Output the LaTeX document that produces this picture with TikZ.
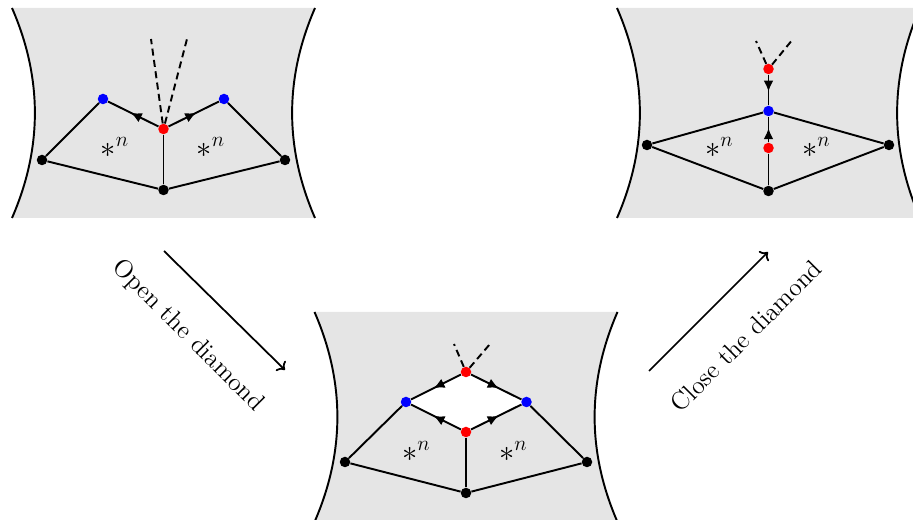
\documentclass[tikz,border=0pt]{standalone}
\usepackage{amsmath, amssymb}
\usepackage{tikz}
\usetikzlibrary{arrows.meta,decorations.markings}

\definecolor{panelgray}{gray}{0.9}

% grey sheet with concave sides, centred at the origin
\newcommand{\drawpanel}{%
    \fill[panelgray] (-3.03,2.1) -- (3.03,2.1)
        .. controls (2.42,0.7) and (2.42,-0.7) .. (3.03,-2.1)
        -- (-3.03,-2.1)
        .. controls (-2.42,-0.7) and (-2.42,0.7) .. (-3.03,2.1) -- cycle;
    \draw[line width=1.1pt] (-3.03,2.1) .. controls (-2.42,0.7) and (-2.42,-0.7) .. (-3.03,-2.1);
    \draw[line width=1.1pt] (3.03,2.1) .. controls (2.42,0.7) and (2.42,-0.7) .. (3.03,-2.1);
}

\begin{document}
\begin{tikzpicture}[
    dot/.style={circle, inner sep=0pt, minimum size=0.21cm},
    rdot/.style={dot, fill=red},
    bdot/.style={dot, fill=blue},
    kdot/.style={dot, fill=black},
    edge/.style={line width=1.1pt},
    midarrow/.style={edge, postaction={decorate},
        decoration={markings, mark=at position 0.55 with {\arrow{Latex[length=2.2mm,width=2mm]}}}},
    ghost/.style={line width=1.1pt, dash pattern=on 4pt off 2.5pt},
    star/.style={font=\LARGE},
    move/.style={->, line width=1pt},
    lbl/.style={font=\Large}
]
    \useasboundingbox (0,0) rectangle (18.26,-10.4);

    % Left panel
    \begin{scope}[shift={(3.27,-2.26)}]
        \drawpanel
        \node[rdot] (r1) at (0,-0.32) {};
        \node[bdot] (bl1) at (-1.21,0.28) {};
        \node[bdot] (br1) at (1.21,0.28) {};
        \node[kdot] (kl1) at (-2.43,-0.94) {};
        \node[kdot] (kr1) at (2.43,-0.94) {};
        \node[kdot] (kb1) at (0,-1.54) {};
        \coordinate (g1l) at (-0.25,1.48);
        \coordinate (g1r) at (0.47,1.48);

        \draw[edge] (bl1) -- (kl1) -- (kb1) -- (kr1) -- (br1);
        \draw[edge] (r1) -- (kb1);
        \draw[midarrow] (r1) -- (bl1);
        \draw[midarrow] (r1) -- (br1);
        \draw[ghost] (r1) -- (g1l);
        \draw[ghost] (r1) -- (g1r);

        \node[star] at (-0.97,-0.68) {$*^n$};
        \node[star] at (0.95,-0.68) {$*^n$};
    \end{scope}

    % Middle panel
    \begin{scope}[shift={(9.32,-8.34)}]
        \drawpanel
        \fill[white] (0,0.9) -- (-1.2,0.3) -- (0,-0.3) -- (1.21,0.3) -- cycle;
        \node[rdot] (rt2) at (0,0.9) {};
        \node[bdot] (bl2) at (-1.2,0.3) {};
        \node[bdot] (br2) at (1.21,0.3) {};
        \node[rdot] (rb2) at (0,-0.3) {};
        \node[kdot] (kl2) at (-2.42,-0.9) {};
        \node[kdot] (kr2) at (2.42,-0.9) {};
        \node[kdot] (kb2) at (0,-1.52) {};
        \coordinate (g2l) at (-0.24,1.46);
        \coordinate (g2r) at (0.48,1.46);

        \draw[edge] (bl2) -- (kl2) -- (kb2) -- (kr2) -- (br2);
        \draw[edge] (rb2) -- (kb2);
        \draw[midarrow] (rt2) -- (bl2);
        \draw[midarrow] (rt2) -- (br2);
        \draw[midarrow] (rb2) -- (bl2);
        \draw[midarrow] (rb2) -- (br2);
        \draw[ghost] (rt2) -- (g2l);
        \draw[ghost] (rt2) -- (g2r);

        \node[star] at (-0.99,-0.68) {$*^n$};
        \node[star] at (0.95,-0.68) {$*^n$};
    \end{scope}

    % Right panel
    \begin{scope}[shift={(15.37,-2.26)}]
        \drawpanel
        \node[rdot] (rt3) at (0,0.88) {};
        \node[bdot] (b3) at (0,0.04) {};
        \node[rdot] (rb3) at (0,-0.7) {};
        \node[kdot] (kl3) at (-2.43,-0.64) {};
        \node[kdot] (kr3) at (2.41,-0.64) {};
        \node[kdot] (kb3) at (0,-1.56) {};
        \coordinate (g3l) at (-0.25,1.44);
        \coordinate (g3r) at (0.49,1.48);

        \draw[edge] (b3) -- (kl3) -- (kb3) -- (kr3) -- (b3);
        \draw[edge] (rb3) -- (kb3);
        \draw[midarrow] (rt3) -- (b3);
        \draw[midarrow] (rb3) -- (b3);
        \draw[ghost] (rt3) -- (g3l);
        \draw[ghost] (rt3) -- (g3r);

        \node[star] at (-0.98,-0.68) {$*^n$};
        \node[star] at (0.96,-0.68) {$*^n$};
    \end{scope}

    % Moves between the panels
    \coordinate (open-a) at (3.28,-5.02);
    \coordinate (open-b) at (5.70,-7.40);
    \coordinate (close-a) at (12.98,-7.42);
    \coordinate (close-b) at (15.36,-5.04);
    \draw[move] (open-a) -- (open-b);
    \draw[move] (close-a) -- (close-b);
    \node[lbl, rotate=-45] at (3.76,-6.72) {Open the diamond};
    \node[lbl, rotate=45] at (14.92,-6.72) {Close the diamond};
\end{tikzpicture}
\end{document}
